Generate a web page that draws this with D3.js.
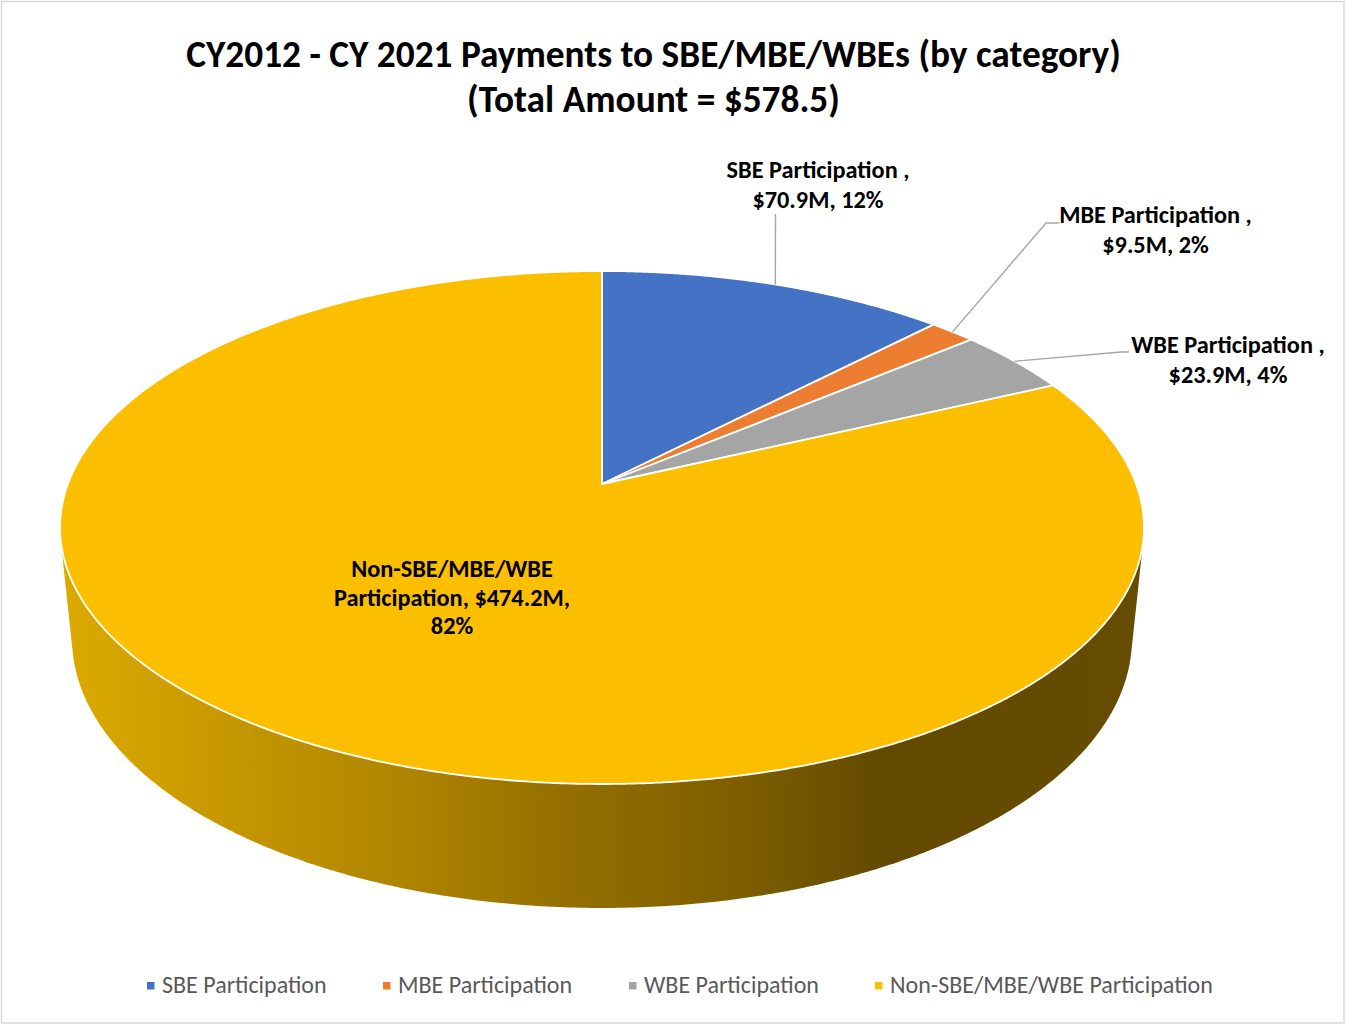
<!DOCTYPE html>
<html>
<head>
<meta charset="utf-8">
<script src="https://cdn.jsdelivr.net/npm/d3@7"></script>
<style>
  html, body { margin: 0; padding: 0; background: #fff; }
  svg { display: block; }
</style>
</head>
<body>
<svg id="chart" width="1346" height="1025"></svg>
<script>
// ---------------- DATA ----------------
const categories = ["SBE Participation", "MBE Participation", "WBE Participation", "Non-SBE/MBE/WBE Participation"];
const values = [70.9, 9.5, 23.9, 474.2];
const valueLabels = ["$70.9M", "$9.5M", "$23.9M", "$474.2M"];
const percentLabels = ["12%", "2%", "4%", "82%"];
const titleLines = ["CY2012 - CY 2021 Payments to SBE/MBE/WBEs (by category)", "(Total Amount = $578.5)"];
const colors = ["#4472C4", "#ED7D31", "#A5A5A5", "#FCBF00"];

// ---------------- SETUP ----------------
const W = 1346, H = 1025;
const svg = d3.select("#chart");
const FONT = "Carlito, Calibri, Lato, 'Open Sans', sans-serif";

// border
svg.append("rect").attr("x", 1.5).attr("y", 1.5).attr("width", W - 3.5).attr("height", H - 3.5)
  .attr("fill", "#fff").attr("stroke", "#d9d9d9").attr("stroke-width", 1.5);

// perspective projection of the 3D pie disc (top face / bottom face)
const proj3d = { cx: 602, A: 534.1, b: -167.04, k: 0.1696,
  top: { s: 1.0, a: 484 }, bottom: { s: 1.022, a: 606.9 } };
function project(theta, r, face) {
  const f = proj3d[face];
  const u = r * Math.sin(theta), v = r * Math.cos(theta);
  const den = f.s + proj3d.k * v;
  return [proj3d.cx + proj3d.A * u / den, (f.a + proj3d.b * v) / den];
}

const pie = d3.pie().sort(null).value(d => d);
const arcs = pie(values);

// ---------------- SIDE (gradient) ----------------
const defs = svg.append("defs");
const grad = defs.append("linearGradient").attr("id", "sideGrad")
  .attr("gradientUnits", "userSpaceOnUse").attr("x1", 60).attr("x2", 1144).attr("y1", 0).attr("y2", 0);
[[0, "#dcaa00"], [0.31, "#b08500"], [0.46, "#957000"], [0.62, "#7f5f00"], [0.76, "#634a00"], [1, "#654c00"]]
  .forEach(([o, c]) => grad.append("stop").attr("offset", o).attr("stop-color", c));

const ringPts = [];
for (let i = 0; i < 720; i++) {
  const t = i / 720 * 2 * Math.PI;
  ringPts.push(project(t, 1, "top"));
  ringPts.push(project(t, 1, "bottom"));
}
const hull = d3.polygonHull(ringPts);
svg.append("path").attr("d", "M" + hull.map(p => p.join(",")).join("L") + "Z")
  .attr("fill", "url(#sideGrad)");

// ---------------- TOP SLICES ----------------
function slicePath(a) {
  const n = Math.max(4, Math.ceil((a.endAngle - a.startAngle) / 0.005));
  const pts = [project(0, 0, "top")];
  for (let i = 0; i <= n; i++) {
    pts.push(project(a.startAngle + (a.endAngle - a.startAngle) * i / n, 1, "top"));
  }
  return "M" + pts.map(p => p.join(",")).join("L") + "Z";
}
svg.append("g").selectAll("path").data(arcs).join("path")
  .attr("d", slicePath)
  .attr("fill", (d, i) => colors[i])
  .attr("stroke", "#fff").attr("stroke-width", 1.8).attr("stroke-linejoin", "round");

// ---------------- TEXT HELPERS ----------------
function fitSize(text, weight, target) {
  const t = svg.append("text").attr("font-family", FONT).attr("font-weight", weight)
    .attr("font-size", 20).text(text);
  const w = t.node().getComputedTextLength();
  t.remove();
  return 20 * target / w;
}

// ---------------- TITLE ----------------
const titleSize = fitSize(titleLines[0], "bold", 935);
const titleY = [67, 112];
svg.append("g").selectAll("text").data(titleLines).join("text")
  .attr("x", 653.5).attr("y", (d, i) => titleY[i])
  .attr("text-anchor", "middle").attr("font-family", FONT).attr("font-weight", "bold")
  .attr("font-size", titleSize).attr("fill", "#000").text(d => d);

// ---------------- DATA LABELS ----------------
const labelSize = fitSize("SBE Participation ,", "bold", 183);
const labelLayout = [
  { lines: [categories[0] + " ,", valueLabels[0] + ", " + percentLabels[0]], x: 818, y: [178, 208],
    leader: [[775.5, 214]] },
  { lines: [categories[1] + " ,", valueLabels[1] + ", " + percentLabels[1]], x: 1155.5, y: [223, 253],
    leader: [[1046, 223], [1059, 223]] },
  { lines: [categories[2] + " ,", valueLabels[2] + ", " + percentLabels[2]], x: 1228, y: [353, 383],
    leader: [[1121, 352], [1129, 352]] },
  { lines: ["Non-SBE/MBE/WBE", "Participation, " + valueLabels[3] + ",", percentLabels[3]], x: 452, y: [577, 605.5, 634],
    leader: null }
];
const lblG = svg.append("g");
labelLayout.forEach((L, i) => {
  if (L.leader) {
    const a = arcs[i];
    const start = project((a.startAngle + a.endAngle) / 2, 1, "top");
    const pts = [start].concat(L.leader);
    lblG.append("path").attr("d", d3.line()(pts)).attr("fill", "none")
      .attr("stroke", "#a6a6a6").attr("stroke-width", 1.4);
  }
  L.lines.forEach((s, j) => {
    lblG.append("text").attr("x", L.x).attr("y", L.y[j]).attr("text-anchor", "middle")
      .attr("font-family", FONT).attr("font-weight", "bold").attr("font-size", labelSize)
      .attr("fill", "#000").text(s);
  });
});

// ---------------- LEGEND ----------------
const legendSize = fitSize(categories[3], "normal", 323);
const legendX = [147, 383, 629, 875];
const lg = svg.append("g");
categories.forEach((c, i) => {
  lg.append("rect").attr("x", legendX[i]).attr("y", 982).attr("width", 7.5).attr("height", 7.5)
    .attr("fill", colors[i]);
  lg.append("text").attr("x", legendX[i] + 15).attr("y", 993).attr("font-family", FONT)
    .attr("font-size", legendSize).attr("fill", "#595959").text(c);
});
</script>
</body>
</html>
